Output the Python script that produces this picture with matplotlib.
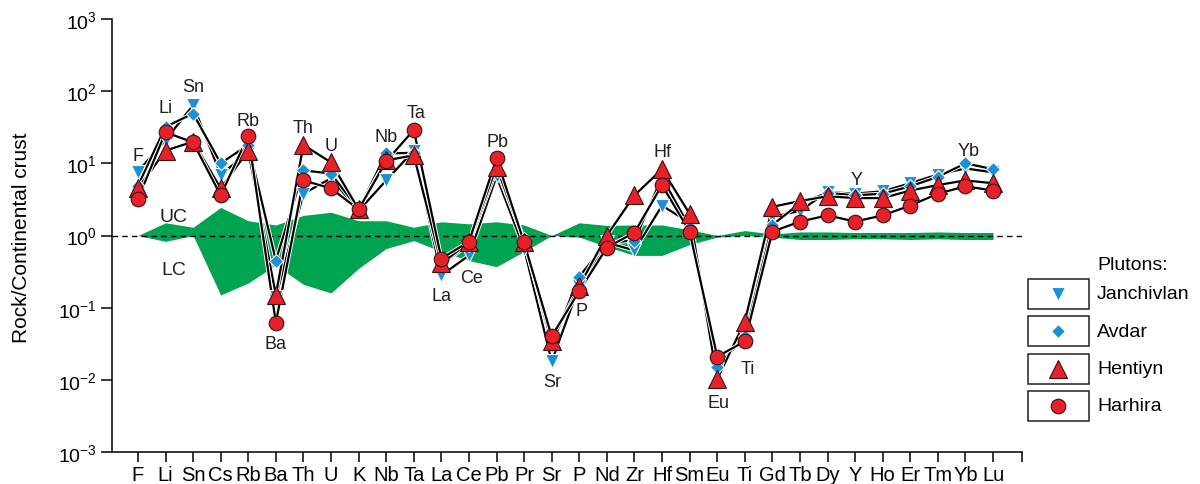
import matplotlib
matplotlib.use('Agg')
import matplotlib.pyplot as plt
import matplotlib.patches as mpatches
import matplotlib.patheffects as pe
from matplotlib.lines import Line2D
from matplotlib.ticker import LogFormatterMathtext, NullLocator

plt.rcParams['font.family'] = ['Liberation Sans', 'DejaVu Sans']
plt.rcParams['mathtext.fontset'] = 'custom'
plt.rcParams['mathtext.rm'] = 'Liberation Sans'
plt.rcParams['mathtext.it'] = 'Liberation Sans:italic'
plt.rcParams['mathtext.bf'] = 'Liberation Sans:bold'

# datos
elements = ['F', 'Li', 'Sn', 'Cs', 'Rb', 'Ba', 'Th', 'U', 'K', 'Nb', 'Ta', 'La', 'Ce', 'Pb', 'Pr', 'Sr',
            'P', 'Nd', 'Zr', 'Hf', 'Sm', 'Eu', 'Ti', 'Gd', 'Tb', 'Dy', 'Y', 'Ho', 'Er', 'Tm', 'Yb', 'Lu']

janchivlan = [7.7, 21, 64, 7.0, 14, 0.14, 3.8, 6.2, 2.2, 5.8, 15, 0.28, 0.53, 6.6, 0.66, 0.018,
              0.2, 0.8, 0.62, 2.6, 1.5, 0.014, 0.04, 1.8, 2.2, 4.0, 3.8, 4.1, 5.3, 7.0, 8.5, 7.5]
avdar = [4.9, 32, 49, 10, 18, 0.45, 8.0, 7.2, 2.3, 13.7, 14, 0.4, 0.75, 8.0, 0.9, 0.03,
         0.27, 0.8, 0.85, 6.4, 1.3, 0.015, 0.04, 1.4, 2.8, 3.9, 3.6, 3.8, 4.8, 6.5, 10, 8.3]
hentiyn = [4.5, 15, 20, 4.5, 15, 0.15, 18, 10.3, 2.3, 11, 12.9, 0.41, 0.8, 9.0, 0.82, 0.034,
           0.2, 1.0, 3.6, 8.3, 2.0, 0.0102, 0.064, 2.5, 3.0, 3.5, 3.3, 3.3, 4.2, 5.0, 5.8, 5.3]
harhira = [3.2, 27, 19.5, 3.6, 24, 0.062, 5.8, 4.5, 2.3, 10.7, 29, 0.48, 0.82, 11.7, 0.8, 0.04,
           0.17, 0.68, 1.1, 5.0, 1.13, 0.021, 0.034, 1.13, 1.56, 1.9, 1.56, 1.9, 2.6, 3.8, 4.8, 4.2]

# banda corteza superior / inferior
uc_upper = [1.0, 1.5, 1.3, 2.45, 1.6, 1.4, 1.9, 2.1, 1.6, 1.6, 1.3, 1.55, 1.45, 1.55, 1.4, 1.0,
            1.5, 1.38, 1.4, 1.4, 1.2, 1.0, 1.17, 1.05, 1.12, 1.12, 1.1, 1.1, 1.1, 1.12, 1.1, 1.1]
lc_lower = [1.0, 0.83, 1.0, 0.15, 0.22, 0.39, 0.21, 0.16, 0.35, 0.66, 0.85, 0.6, 0.45, 0.37, 0.6, 1.0,
            0.95, 0.7, 0.53, 0.53, 0.75, 0.95, 1.0, 0.95, 0.88, 0.88, 0.9, 0.9, 0.88, 0.9, 0.88, 0.88]

yticks = [1e-3, 1e-2, 1e-1, 1e0, 1e1, 1e2, 1e3]

# etiquetas de elementos: (elemento, dx, dy) en pixeles desde max (arriba) o min (abajo)
labels_above = [('F', 0, 16), ('Li', 0, 19), ('Sn', 0, 19), ('Rb', 0, 15), ('Th', 0, 17), ('U', 0, 17),
                ('Nb', 0, 17), ('Ta', 2, 17), ('Pb', 1, 17), ('Hf', 0, 18), ('Y', 2, 14), ('Yb', 3, 13)]
labels_below = [('Ba', 0, 21), ('La', 0, 20), ('Ce', 3, 22), ('Sr', 1, 20), ('P', 2, 19),
                ('Eu', 1, 23), ('Ti', 3, 27)]

RED = '#e62129'
BLUE = '#1b90d8'
GREEN = '#00a34f'

series = [
    ('Janchivlan', janchivlan, dict(marker='v', ms=9.5, mfc=BLUE, mec='white', mew=0.8)),
    ('Avdar', avdar, dict(marker='D', ms=7.5, mfc=BLUE, mec='white', mew=0.8)),
    ('Hentiyn', hentiyn, dict(marker='^', ms=12.5, mfc=RED, mec='#3a1010', mew=0.8)),
    ('Harhira', harhira, dict(marker='o', ms=10.5, mfc=RED, mec='#3a1010', mew=0.8)),
]

fig = plt.figure(figsize=(12, 4.85), dpi=100)
ax = fig.add_axes([112 / 1200, 1 - 453 / 485, 910 / 1200, 433 / 485])

x = list(range(len(elements)))
ax.fill_between(x, lc_lower, uc_upper, color=GREEN, lw=0, zorder=1)
ax.axhline(1.0, color='black', lw=1.0, dashes=(4, 3), zorder=1.5)

# lineas primero, luego marcadores
for i, (name, vals, st) in enumerate(series):
    ax.plot(x, vals, color='black', lw=1.6, zorder=2 + i * 0.01,
            path_effects=[pe.Stroke(linewidth=3.0, foreground='white'), pe.Normal()])
for i, (name, vals, st) in enumerate(series):
    ax.plot(x, vals, ls='none', zorder=3 + i, **st)

ax.set_yscale('log')
ax.set_ylim(1e-3, 1e3)
ax.set_xlim(-0.94, 32.05)
ax.set_yticks(yticks)
ax.yaxis.set_major_formatter(LogFormatterMathtext())
ax.yaxis.set_minor_locator(NullLocator())
ax.set_xticks(x)
ax.set_xticks([32.05], minor=True)
ax.set_xticklabels(elements, fontsize=14.5)
ax.tick_params(axis='y', labelsize=14, length=8, width=1.1, direction='out', pad=3)
ax.tick_params(axis='x', which='both', length=7.5, width=1.1, direction='out', pad=2)
for s in ['top', 'right']:
    ax.spines[s].set_visible(False)
for s in ['left', 'bottom']:
    ax.spines[s].set_linewidth(1.1)
fig.text(22 / 1200, 1 - 238 / 485, 'Rock/Continental crust', fontsize=15, rotation=90,
         ha='center', va='center')

# etiquetas
allv = [janchivlan, avdar, hentiyn, harhira]
for el, dx, dy in labels_above:
    k = elements.index(el)
    top = max(v[k] for v in allv)
    ax.annotate(el, (k, top), xytext=(dx, dy), textcoords='offset pixels',
                ha='center', va='center', fontsize=13, color='#231f20', zorder=10)
for el, dx, dy in labels_below:
    k = elements.index(el)
    bot = min(v[k] for v in allv)
    ax.annotate(el, (k, bot), xytext=(dx, -dy), textcoords='offset pixels',
                ha='center', va='center', fontsize=13, color='#231f20', zorder=10)

ax.text(1.3, 1.85, 'UC', fontsize=14, ha='center', va='center', color='#231f20')
ax.text(1.3, 0.34, 'LC', fontsize=14, ha='center', va='center', color='#231f20')

# leyenda de cajas
fig.text(1097 / 1200, 1 - 266 / 485, 'Plutons:', fontsize=14, ha='left', va='center')
for i, (name, vals, st) in enumerate(series):
    top = 280 + 37.3 * i
    rect = mpatches.Rectangle((1028 / 1200, 1 - (top + 30) / 485), 61 / 1200, 30 / 485,
                              transform=fig.transFigure, fill=False, ec='#231f20', lw=1.1)
    fig.patches.append(rect)
    fig.lines.append(Line2D([1058 / 1200], [1 - (top + 15) / 485], transform=fig.transFigure,
                            ls='none', **st))
    fig.text(1097 / 1200, 1 - (top + 15) / 485, name, fontsize=14, ha='left', va='center')

plt.savefig('out.png', dpi=100, facecolor='white')
plt.close()
